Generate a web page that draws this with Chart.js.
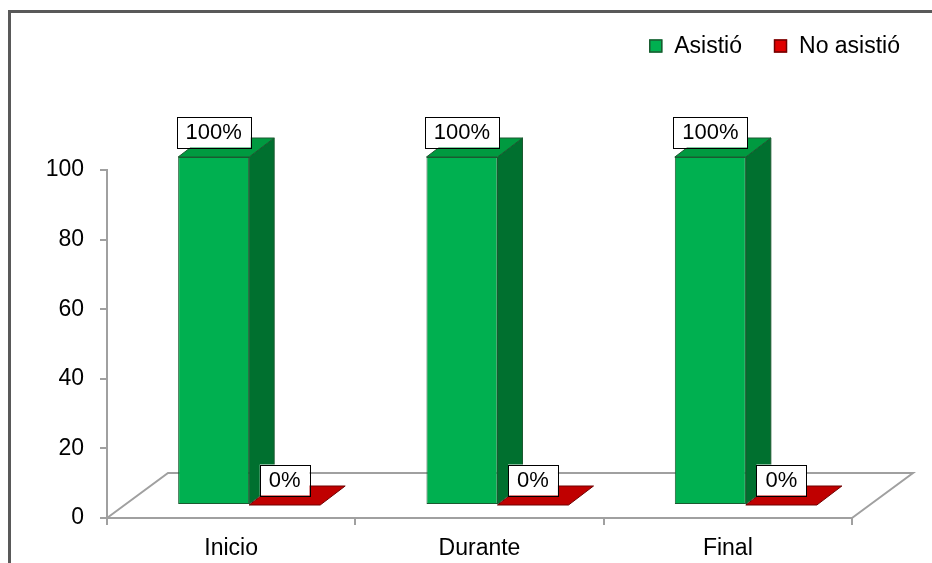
<!DOCTYPE html>
<html>
<head>
<meta charset="utf-8">
<script src="https://cdn.jsdelivr.net/npm/chart.js@4/dist/chart.umd.min.js"></script>
<style>
  html, body { margin: 0; padding: 0; background: #fff; }
  canvas { display: block; }
</style>
</head>
<body>
<canvas id="asistenciaChart" width="932" height="563"></canvas>
<script>
const categories = ['Inicio', 'Durante', 'Final'];
const seriesNames = ['Asistió', 'No asistió'];
const asistio = [100, 100, 100];
const noAsistio = [0, 0, 0];
const yTicks = [0, 20, 40, 60, 80, 100];

// colours per series: front, side, top, edge
const frontColors = ['#00B050', '#E00000'];
const sideColors = ['#00702F', '#8A0000'];
const topColors = ['#009A40', '#C00000'];
const edgeColors = ['#1B5A30', '#6E0000'];

// 3d offsets (px)
const shift = { x: 18, y: -13 };   // bars sit part way back on the floor
const depth = { x: 25, y: -19 };   // bar depth
const floor = { x: 61, y: -45 };   // floor depth

const FONT = "'Liberation Sans', Arial, sans-serif";

function poly(ctx, pts, fill, stroke) {
    ctx.beginPath();
    ctx.moveTo(pts[0][0], pts[0][1]);
    for (let i = 1; i < pts.length; i++) ctx.lineTo(pts[i][0], pts[i][1]);
    ctx.closePath();
    ctx.fillStyle = fill;
    ctx.fill();
    ctx.lineWidth = 1;
    ctx.strokeStyle = stroke;
    ctx.stroke();
}

const threeD = {
    id: 'threeD',
    beforeDraw(chart) {
        const ctx = chart.ctx;
        ctx.save();
        ctx.fillStyle = '#595959';
        ctx.fillRect(8, 10, 3, chart.height - 10);
        ctx.fillRect(8, 10, chart.width - 8, 3);
        ctx.restore();
    },
    beforeDatasetsDraw(chart) {
        const { ctx, chartArea: a } = chart;
        ctx.save();
        ctx.strokeStyle = '#A0A0A0';
        ctx.lineWidth = 2;
        ctx.beginPath();
        ctx.moveTo(a.left, a.bottom);
        ctx.lineTo(a.left + floor.x, a.bottom + floor.y);
        ctx.lineTo(a.right + floor.x, a.bottom + floor.y);
        ctx.lineTo(a.right, a.bottom);
        ctx.stroke();
        ctx.restore();
        ctx.save();
        ctx.translate(shift.x, shift.y);
    },
    afterDatasetsDraw(chart) {
        const ctx = chart.ctx;
        chart.data.datasets.forEach((ds, di) => {
            chart.getDatasetMeta(di).data.forEach(el => {
                const { x, y, base, width } = el.getProps(['x', 'y', 'base', 'width'], true);
                const l = x - width / 2, r = x + width / 2;
                if (base - y > 0.5) {
                    poly(ctx, [[r, y], [r + depth.x, y + depth.y], [r + depth.x, base + depth.y], [r, base]],
                        sideColors[di], edgeColors[di]);
                }
                poly(ctx, [[l, y], [l + depth.x, y + depth.y], [r + depth.x, y + depth.y], [r, y]],
                    topColors[di], edgeColors[di]);
            });
        });
        ctx.restore();
    },
    afterDraw(chart) {
        const ctx = chart.ctx;
        ctx.save();
        // value labels
        ctx.font = '22px ' + FONT;
        ctx.textAlign = 'center';
        ctx.textBaseline = 'middle';
        chart.data.datasets.forEach((ds, di) => {
            chart.getDatasetMeta(di).data.forEach((el, i) => {
                const { x, y } = el.getProps(['x', 'y'], true);
                const txt = ds.data[i] + '%';
                const w = ctx.measureText(txt).width + 18;
                const h = 31;
                const cx = x + shift.x, cy = y + shift.y - 25;
                ctx.fillStyle = '#fff';
                ctx.fillRect(cx - w / 2, cy - h / 2, w, h);
                ctx.strokeStyle = '#000';
                ctx.lineWidth = 1;
                ctx.strokeRect(Math.round(cx - w / 2) + 0.5, Math.round(cy - h / 2) + 0.5, Math.round(w), h);
                ctx.fillStyle = '#000';
                ctx.fillText(txt, cx, cy + 1);
            });
        });
        // legend
        ctx.font = '23px ' + FONT;
        ctx.textAlign = 'left';
        const box = 13, gap = 12, spacing = 32, rightEdge = 900, cy = 46;
        const widths = chart.data.datasets.map(ds => ctx.measureText(ds.label).width);
        let lx = rightEdge - widths.reduce((s, w) => s + box + gap + w, 0) - spacing * (widths.length - 1);
        chart.data.datasets.forEach((ds, di) => {
            ctx.fillStyle = frontColors[di];
            ctx.fillRect(lx, cy - box / 2, box, box);
            ctx.strokeStyle = edgeColors[di];
            ctx.lineWidth = 1.5;
            ctx.strokeRect(lx + 0.5, cy - box / 2 + 0.5, box - 1, box - 1);
            ctx.fillStyle = '#000';
            ctx.fillText(ds.label, lx + box + gap, cy + 1);
            lx += box + gap + widths[di] + spacing;
        });
        ctx.restore();
    }
};

new Chart(document.getElementById('asistenciaChart'), {
    type: 'bar',
    data: {
        labels: categories,
        datasets: [
            {
                label: seriesNames[0],
                data: asistio,
                backgroundColor: frontColors[0],
                borderColor: edgeColors[0],
                borderWidth: 1,
                borderSkipped: false,
            },
            {
                label: seriesNames[1],
                data: noAsistio,
                backgroundColor: frontColors[1],
                borderColor: edgeColors[1],
                borderWidth: 0,
            }
        ],
    },
    options: {
        responsive: false,
        animation: false,
        layout: { padding: { top: 170, right: 80, left: 0, bottom: 0 } },
        datasets: { bar: { barPercentage: 1, categoryPercentage: 0.572, clip: false } },
        plugins: {
            legend: { display: false },
            tooltip: { enabled: false },
        },
        scales: {
            x: {
                grid: { display: true, drawOnChartArea: false, tickLength: 7, color: '#A0A0A0', lineWidth: 2 },
                border: { color: '#A0A0A0', width: 2 },
                ticks: { color: '#000', font: { family: FONT, size: 23 }, padding: 10 },
                afterFit: s => { s.height = 45; },
            },
            y: {
                min: 0,
                max: 100,
                afterBuildTicks: s => { s.ticks = yTicks.map(v => ({ value: v })); },
                grid: { display: true, drawOnChartArea: false, tickLength: 7, color: '#A0A0A0', lineWidth: 2 },
                border: { color: '#A0A0A0', width: 2 },
                ticks: { color: '#000', font: { family: FONT, size: 23 }, padding: 16 },
                afterFit: s => { s.width = 107; },
            },
        },
    },
    plugins: [threeD],
});
</script>
</body>
</html>
